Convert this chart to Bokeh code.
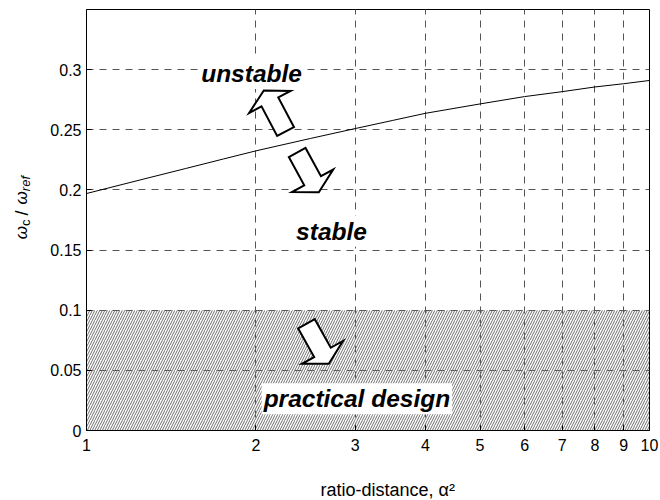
import numpy as np
from bokeh.plotting import figure
from bokeh.layouts import row, column
from bokeh.models import FixedTicker, Label, Range1d
from bokeh.core.properties import value
from bokeh.embed import file_html
from bokeh.resources import INLINE

# Stability boundary: normalised crossover frequency vs. squared distance ratio
alpha_sq = [1, 1.25, 1.5, 1.75, 2, 2.5, 3, 3.5, 4, 5, 6, 7, 8, 9, 10]
wc_ratio = [0.197, 0.2085, 0.2178, 0.2257, 0.2325, 0.2428, 0.251, 0.2578,
            0.2637, 0.2715, 0.2776, 0.2817, 0.2856, 0.2883, 0.291]

# upper bound of the practical design band
practical_limit = 0.1

x_ticks = [1, 2, 3, 4, 5, 6, 7, 8, 9, 10]
x_tick_labels = ["1", "2", "3", "4", "5", "6", "7", "8", "9", "10"]
y_ticks = [0, 0.05, 0.1, 0.15, 0.2, 0.25, 0.3]
y_tick_labels = ["0", "0.05", "0.1", "0.15", "0.2", "0.25", "0.3"]

# region annotations (data coordinates, text centred, on its baseline)
region_names = ["unstable", "stable", "practical design"]
region_x = [1.964, 2.724, 3.022]
region_y = [0.2968, 0.1656, 0.02635]

# block arrows: tail -> tip in data coordinates
arrow_tail_x = [2.257, 2.367, 2.459]
arrow_tail_y = [0.2486, 0.2311, 0.0887]
arrow_tip_x = [2.065, 2.586, 2.694]
arrow_tip_y = [0.2827, 0.1981, 0.0555]

# ---- layout -------------------------------------------------------------
W, H = 660, 500
STRIP_W = 40                    # strip on the left holding the y title
STRIP_H = 40                    # strip below holding the x title
LEFT, RIGHT, TOP, BOTTOM = 86, 11, 9, 70
FW, FH = W - LEFT - RIGHT, H - TOP - BOTTOM
X0, X1 = 1, 10
Y0, Y1 = 0, 0.35
FONT = "Liberation Sans"


def to_px(x, y):
    px = LEFT + FW * (np.log10(x) - np.log10(X0)) / (np.log10(X1) - np.log10(X0))
    py = TOP + FH * (1 - (y - Y0) / (Y1 - Y0))
    return np.array([px, py], dtype=float)


def from_px(px, py):
    x = 10 ** (np.log10(X0) + (px - LEFT) / FW * (np.log10(X1) - np.log10(X0)))
    y = Y0 + (1 - (py - TOP) / FH) * (Y1 - Y0)
    return x, y


def block_arrow(tx, ty, hx, hy, shaft_hw=9.5, head_hw=23.5, head_len=13.0):
    t = to_px(tx, ty)
    h = to_px(hx, hy)
    d = h - t
    u = d / np.hypot(*d)
    n = np.array([-u[1], u[0]])
    base = h - u * head_len
    pts = [t + n * shaft_hw, base + n * shaft_hw, base + n * head_hw, h,
           base - n * head_hw, base - n * shaft_hw, t - n * shaft_hw]
    xs, ys = zip(*[from_px(px, py) for px, py in pts])
    return list(xs), list(ys)


def blank_strip(width, height):
    f = figure(width=width, height=height,
               x_range=Range1d(0, width), y_range=Range1d(0, height),
               output_backend="svg", toolbar_location=None,
               x_axis_location=None, y_axis_location=None,
               min_border_left=0, min_border_right=0,
               min_border_top=0, min_border_bottom=0)
    f.grid.visible = False
    f.outline_line_color = None
    f.background_fill_color = "white"
    f.border_fill_color = "white"
    return f


TOP_H = H - STRIP_H
p = figure(width=W - STRIP_W, height=TOP_H, x_axis_type="log",
           x_range=Range1d(X0, X1), y_range=Range1d(Y0, Y1),
           output_backend="svg", toolbar_location=None,
           min_border_left=LEFT - STRIP_W, min_border_right=RIGHT,
           min_border_top=TOP, min_border_bottom=BOTTOM - STRIP_H)

p.background_fill_color = "white"
p.border_fill_color = "white"
p.outline_line_color = "black"
p.outline_line_width = 1

# axes
xt = FixedTicker(ticks=x_ticks)
yt = FixedTicker(ticks=y_ticks)
p.xaxis.ticker = xt
p.yaxis.ticker = yt
p.xgrid.ticker = xt
p.ygrid.ticker = yt
p.xaxis.major_label_overrides = dict(zip(x_ticks, x_tick_labels))
p.yaxis.major_label_overrides = dict(zip(y_ticks, y_tick_labels))
for ax in (p.xaxis, p.yaxis):
    ax.axis_line_color = "black"
    ax.major_tick_line_color = "black"
    ax.major_tick_in = 5
    ax.major_tick_out = 0
    ax.minor_tick_line_color = None
    ax.major_label_text_font = FONT
    ax.major_label_text_font_size = "16px"
    ax.major_label_text_color = "black"
p.xaxis.major_label_standoff = 8
p.yaxis.major_label_standoff = 5

for g in (p.xgrid, p.ygrid):
    g.grid_line_color = "#555555"
    g.grid_line_dash = "7 6"
    g.grid_line_width = 1

# hatched practical-design band
p.quad(left=X0, right=X1, bottom=Y0, top=practical_limit,
       fill_alpha=0, line_alpha=0,
       hatch_pattern="/", hatch_color="#6e6e6e", hatch_scale=5, hatch_weight=1)

# stability boundary
p.line(alpha_sq, wc_ratio, line_color="black", line_width=1)

# hollow block arrows
axs, ays = [], []
for tx, ty, hx, hy in zip(arrow_tail_x, arrow_tail_y, arrow_tip_x, arrow_tip_y):
    xs, ys = block_arrow(tx, ty, hx, hy)
    axs.append(xs)
    ays.append(ys)
p.patches(axs, ays, fill_color="white", line_color="black", line_width=2,
          line_join="miter")

# region labels
for name, x, y in zip(region_names, region_x, region_y):
    p.add_layout(Label(x=x, y=y, text=name, text_align="center",
                       text_baseline="alphabetic", text_font=FONT,
                       text_font_size="24.5px", text_font_style="bold italic",
                       text_color="black", background_fill_color="white",
                       padding=2))

# ---- y axis title strip (local pixels, y up from the strip bottom) -------
s = blank_strip(STRIP_W, TOP_H)
# pieces: text, size, style, start (px from top), baseline (px from left)
ylabel_parts = [("ω", "17px", "italic", 251, 21),
                ("c", "13px", "normal", 236.5, 24.5),
                ("/", "18px", "normal", 225, 21),
                ("ω", "17px", "italic", 213, 21),
                ("ref", "13px", "italic", 198.5, 24.5)]
for txt, size, style, sy, sx in ylabel_parts:
    s.text(x=[sx], y=[TOP_H - sy], text=[txt], angle=np.pi / 2,
           text_align="left", text_baseline="alphabetic",
           text_font=value(FONT), text_font_size=value(size),
           text_font_style=style, text_color="black")

# ---- x axis title strip, full width -------------------------------------
b = blank_strip(W, STRIP_H)
b.text(x=[320], y=[H - 489], text=["ratio-distance, α²"],
       text_align="left", text_baseline="alphabetic",
       text_font=value(FONT), text_font_size=value("18px"), text_color="black")

layout = column(row(s, p, spacing=0), b, spacing=0)
open("out.html", "w").write(file_html(layout, INLINE))
